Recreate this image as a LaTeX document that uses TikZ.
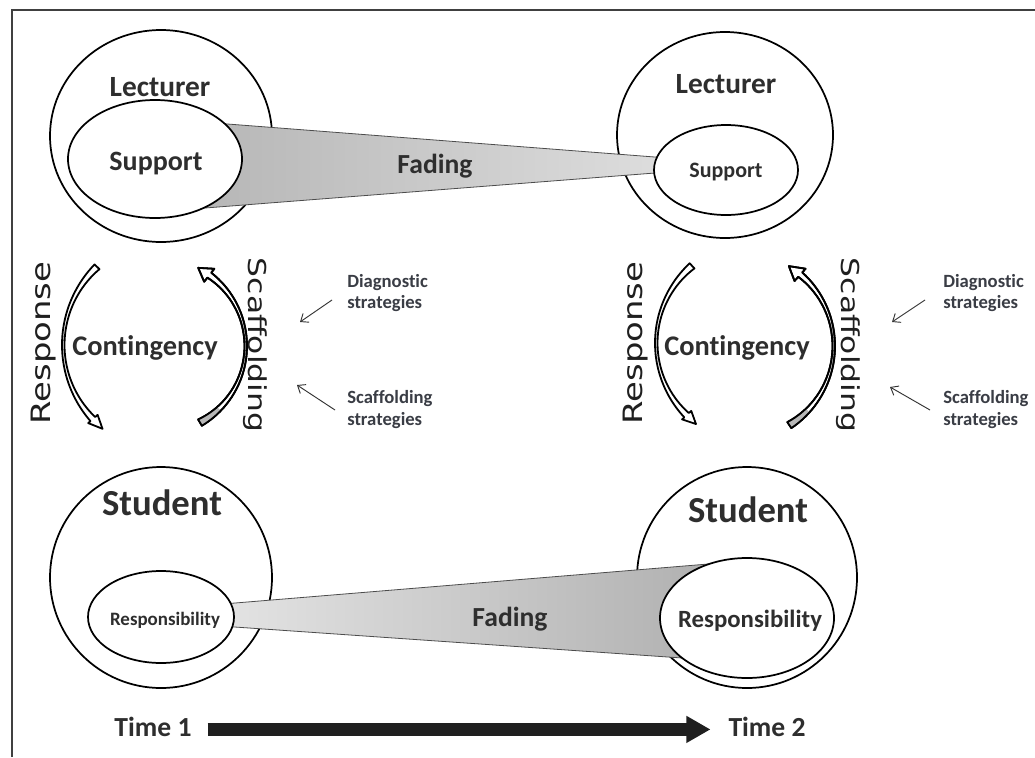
\documentclass[tikz,border=0pt]{standalone}
\usepackage{fontspec}
\setmainfont{Carlito}[Ligatures=NoCommon]
\newfontfamily\dejavu{DejaVu Sans}
\usetikzlibrary{shapes.geometric,arrows.meta,calc}
\definecolor{txt}{HTML}{2E2E2E}
\definecolor{stxt}{HTML}{3A3D45}
\begin{document}
\begin{tikzpicture}[x=0.75pt,y=-0.75pt,
  fs/.style={font=\bfseries\fontsize{#1}{#1}\selectfont},
  lbl/.style={text=txt, inner sep=0pt, outer sep=0pt, anchor=base},
  bigc/.style={ellipse, draw=black, line width=1.3pt, inner sep=0pt, outer sep=0pt, fill=white},
  innere/.style={ellipse, draw=black, line width=1.3pt, fill=white, inner sep=0pt, outer sep=0pt},
  wedge/.style={draw=black!70, line width=0.6pt},
  band/.style={draw=black, line width=1.35pt, line join=round},
  small/.style={text=stxt, font=\bfseries\fontsize{14pt}{16pt}\selectfont, inner sep=0pt, anchor=base west},
  pointer/.style={draw=black!80, line width=0.7pt, -{Straight Barb[length=5pt,width=8pt]}},
  timebar/.style={draw=black!88, line width=9.5pt, -{Triangle[length=18pt,width=19pt]}},
  vert/.style={text=black!88, inner sep=0pt, outer sep=0pt},
  frame/.style={draw=black!75, line width=2pt}
]
\useasboundingbox (0,0) rectangle (1035,757);
\fill[white] (0,0) rectangle (1035,757);
\draw[frame] (12,757) -- (12,10) -- (1035,10);

% big circles
\node[bigc, minimum width=166.5pt, minimum height=159pt] (lec1) at (161,136) {};
\node[bigc, minimum width=162pt, minimum height=154.5pt] (lec2) at (725,135) {};
\node[bigc, minimum width=166.5pt, minimum height=165.75pt] (stu1) at (161,577.5) {};
\node[bigc, minimum width=165pt, minimum height=165.75pt] (stu2) at (747,577.5) {};

% centres of inner ellipses
\coordinate (c-sup1) at (155,159);
\coordinate (c-sup2) at (726,170);
\coordinate (c-res1) at (161,617);
\coordinate (c-res2) at (747,618);

% fading wedges
\path[wedge, left color=black!30, right color=black!12]
  ($(c-sup1)+(0,-40.6)$) -- ($(c-sup2)+(-26,-9.5)$) -- ($(c-sup2)+(-26,-0.5)$) -- ($(c-sup1)+(0,52.9)$) -- cycle;
\path[wedge, left color=black!10, right color=black!32]
  ($(c-res1)+(39,-11.1)$) -- ($(c-res2)+(-7,-56.6)$) -- ($(c-res2)+(-7,44)$) -- ($(c-res1)+(39,7.6)$) -- cycle;

% inner ellipses
\node[innere, minimum width=130.5pt, minimum height=88.5pt] (sup1) at (c-sup1) {};
\node[innere, minimum width=108pt, minimum height=67.5pt] (sup2) at (c-sup2) {};
\node[innere, minimum width=109.5pt, minimum height=69pt] (res1) at (c-res1) {};
\node[innere, minimum width=130.5pt, minimum height=90pt] (res2) at (c-res2) {};

% labels
\node[lbl, fs=22pt] (tlec1) at (160,96) {Lecturer};
\node[lbl, fs=22pt] (tlec2) at (726,93) {Lecturer};
\node[lbl, fs=21pt] (tsup1) at (156,170) {Support};
\node[lbl, fs=16.5pt] (tsup2) at (726,177) {Support};
\node[lbl, fs=20.7pt] (fad1) at (435,173) {Fading};
\node[lbl, fs=27.5pt] (tstu1) at (162,515) {Student};
\node[lbl, fs=27.5pt] (tstu2) at (748,522) {Student};
\node[lbl, fs=14.2pt] (tres1) at (165,625) {Responsibility};
\node[lbl, fs=18.6pt] (tres2) at (750,627) {Responsibility};
\node[lbl, fs=20.7pt] (fad2) at (510,626) {Fading};
\node[lbl, fs=21.3pt] (con1) at (145,355) {Contingency};
\node[lbl, fs=21.3pt] (con2) at (737,355) {Contingency};

% rotated labels
\node[vert, rotate=90, font=\dejavu\fontsize{20pt}{20pt}\selectfont] (resp1) at (44,343) {\scalebox{1.27}[1]{Response}};
\node[vert, rotate=90, font=\dejavu\fontsize{20pt}{20pt}\selectfont] (resp2) at (636,343) {\scalebox{1.27}[1]{Response}};
\node[vert, rotate=-90, font=\dejavu\fontsize{18.5pt}{20pt}\selectfont] (scaf1) at (255,345) {\scalebox{1.27}[1]{Scaffolding}};
\node[vert, rotate=-90, font=\dejavu\fontsize{18.5pt}{20pt}\selectfont] (scaf2) at (848,345) {\scalebox{1.27}[1]{Scaffolding}};

% strategies
\node[small] (dg1) at (347,287) {Diagnostic};
\node[small] (dg1b) at (347,308) {strategies};
\node[small] (sc1) at (347,403) {Scaffolding};
\node[small] (sc1b) at (347,425) {strategies};
\node[small] (dg2) at (943,287) {Diagnostic};
\node[small] (dg2b) at (943,308) {strategies};
\node[small] (sc2) at (943,403) {Scaffolding};
\node[small] (sc2b) at (943,425) {strategies};

\coordinate (pd1s) at (332,300); \coordinate (pd1e) at (300,322);
\coordinate (ps1s) at (335,410); \coordinate (ps1e) at (297,385);
\coordinate (pd2s) at (925,300); \coordinate (pd2e) at (892,322);
\coordinate (ps2s) at (930,410); \coordinate (ps2e) at (890,387);
\draw[pointer] (pd1s) -- (pd1e);
\draw[pointer] (ps1s) -- (ps1e);
\draw[pointer] (pd2s) -- (pd2e);
\draw[pointer] (ps2s) -- (ps2e);

% curved block arrows, time 1
\begin{scope}[shift={(178,345)}]
\draw[band, fill=white] plot[domain=224:139,samples=40] (\x:116) -- (139:119) -- (132:112.8) -- (139:106.5)
  -- plot[domain=139:224,samples=40] (\x:{116-2.5-4.5*((\x-180)/45)*((\x-180)/45)}) -- cycle;
\end{scope}
\begin{scope}[shift={(154,346)}]
\draw[band, fill=white] plot[domain=59:-52,samples=40] (\x:93) -- (-52:98) -- (-60.5:89.8) -- (-52:81.5)
  -- plot[domain=-52:59,samples=40] (\x:{93-2.5-4.5*(\x/57)*(\x/57)}) -- cycle;
\fill[black!28] plot[domain=44:59,samples=10] (\x:93) -- plot[domain=59:44,samples=10] (\x:{93-2.5-4.5*(\x/57)*(\x/57)}) -- cycle;
\draw[band] plot[domain=59:-52,samples=40] (\x:93) -- (-52:98) -- (-60.5:89.8) -- (-52:81.5)
  -- plot[domain=-52:59,samples=40] (\x:{93-2.5-4.5*(\x/57)*(\x/57)}) -- cycle;
\end{scope}

% curved block arrows, time 2
\begin{scope}[shift={(764,343)}]
\draw[band, fill=white] plot[domain=227:137,samples=40] (\x:109) -- (137:112) -- (130:105.8) -- (137:99.5)
  -- plot[domain=137:227,samples=40] (\x:{109-2.5-4.5*((\x-180)/47)*((\x-180)/47)}) -- cycle;
\end{scope}
\begin{scope}[shift={(736,346)}]
\draw[band, fill=white] plot[domain=56:-48,samples=40] (\x:99) -- (-48:104) -- (-56.5:95.8) -- (-48:87.5)
  -- plot[domain=-48:56,samples=40] (\x:{99-2.5-4.5*(\x/55)*(\x/55)}) -- cycle;
\fill[black!28] plot[domain=42:56,samples=10] (\x:99) -- plot[domain=56:42,samples=10] (\x:{99-2.5-4.5*(\x/55)*(\x/55)}) -- cycle;
\draw[band] plot[domain=56:-48,samples=40] (\x:99) -- (-48:104) -- (-56.5:95.8) -- (-48:87.5)
  -- plot[domain=-48:56,samples=40] (\x:{99-2.5-4.5*(\x/55)*(\x/55)}) -- cycle;
\end{scope}

% time line
\node[lbl, fs=20.7pt] (t1) at (153,736) {Time 1};
\node[lbl, fs=20.7pt] (t2) at (767,736) {Time 2};
\draw[timebar] ($(t1.east)+(16,3)$) -- ($(t2.west)+(-18,3)$);
\end{tikzpicture}
\end{document}
